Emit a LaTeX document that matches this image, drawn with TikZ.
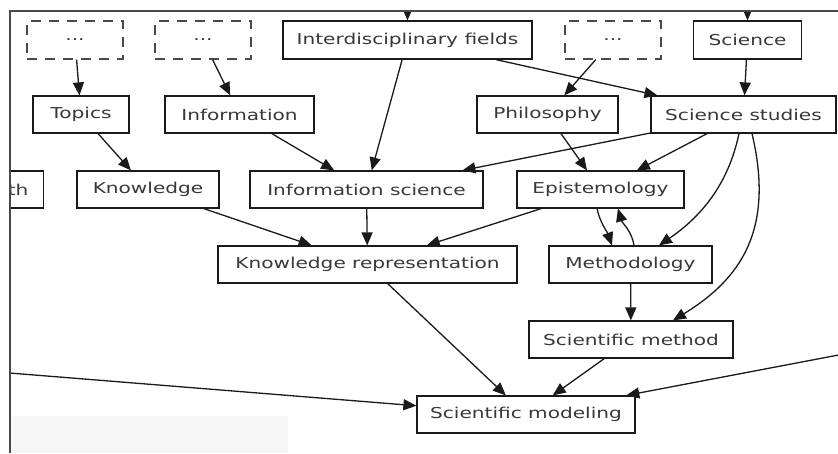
\documentclass[tikz,border=0pt]{standalone}
\usepackage{fontspec}
\setmainfont{DejaVu Sans}[FakeStretch=1.34]
\usetikzlibrary{arrows.meta}
\definecolor{inkline}{HTML}{1A1A1A}
\definecolor{inktext}{HTML}{383838}
\definecolor{framegray}{HTML}{4A4A4A}
\definecolor{paleband}{HTML}{F6F6F6}
\tikzset{
  box/.style={draw=inkline, line width=1.2pt, rectangle, inner sep=0pt,
    minimum height=37pt, text=inktext, font=\fontsize{15}{18}\selectfont},
  dashbox/.style={box, draw=framegray, dash pattern=on 10pt off 8pt, minimum height=38pt},
  edge/.style={draw=inkline, line width=1.3pt, -{Triangle[length=13pt,width=11pt]}},
}
\begin{document}
\begin{tikzpicture}[x=1pt, y=-1pt]
\useasboundingbox (0,0) rectangle (838,453);
\fill[white] (0,0) rectangle (838,453);
\fill[paleband] (11,416) rectangle (288,453);
\begin{scope}
\clip (10,11) rectangle (838,453);

% first row
\node[dashbox, minimum width=96pt] (d1) at (75,40) {...};
\node[dashbox, minimum width=96pt] (d2) at (203,40) {...};
\node[box, minimum width=249pt, minimum height=38pt] (inter) at (407.5,40) {Interdisciplinary fields};
\node[dashbox, minimum width=96pt] (d3) at (613,40) {...};
\node[box, minimum width=108pt, minimum height=38pt] (sci) at (747.5,40) {Science};

% second row
\node[box, minimum width=96pt] (topics) at (81,114.5) {Topics};
\node[box, minimum width=149pt] (info) at (239.5,114.5) {Information};
\node[box, minimum width=141pt] (phil) at (547.5,114.5) {Philosophy};
\node[box, minimum width=185pt] (studies) at (743.5,114.5) {Science studies};

% third row
\node[box, anchor=east, text width=60pt, align=right, inner xsep=15pt] (th) at (44,189.5) {th};
\node[box, minimum width=142pt] (know) at (148,189.5) {Knowledge};
\node[box, minimum width=233pt] (infosci) at (366.5,189.5) {Information science};
\node[box, minimum width=167pt] (epi) at (600.5,189.5) {Epistemology};

% fourth row
\node[box, minimum width=299pt] (kr) at (367.5,264.5) {Knowledge representation};
\node[box, minimum width=163pt] (meth) at (630.5,264.5) {Methodology};

% fifth and sixth rows
\node[box, minimum width=204pt] (smeth) at (631,339.5) {Scientific method};
\node[box, minimum width=218pt] (smod) at (526,414.5) {Scientific modeling};

% ends of edges that come from outside the frame
\coordinate (upA) at (407.5,-30);
\coordinate (upB) at (747.5,-30);
\coordinate (farL) at (-60,367.4);
\coordinate (farR) at (900,343.3);

% straight edges
\draw[edge] (upA) -- (inter);
\draw[edge] (upB) -- (sci);
\draw[edge] (d1) -- (topics);
\draw[edge] (d2) -- (info);
\draw[edge] (d3) -- (phil);
\draw[edge] (sci) -- (studies);
\draw[edge] (inter) -- (infosci);
\draw[edge] (inter) -- (studies);
\draw[edge] (topics) -- (know);
\draw[edge] (info) -- (infosci);
\draw[edge] (phil) -- (epi);
\draw[edge] (studies) -- (infosci);
\draw[edge] (studies) -- (epi);
\draw[edge] (know) -- (kr);
\draw[edge] (infosci) -- (kr);
\draw[edge] (epi) -- (kr);
\draw[edge] (meth) -- (smeth);
\draw[edge] (kr) -- (smod);
\draw[edge] (smeth) -- (smod);
\draw[edge] (farL) -- (smod);
\draw[edge] (farR) -- (smod);

% curved edges
\draw[edge] ([xshift=-4.5pt]studies.south) .. controls +(-11,52) and +(41,-28) .. ([xshift=28.5pt]meth.north);
\draw[edge] ([xshift=8.5pt]studies.south) .. controls +(23,97) and +(67,-41) .. ([xshift=42pt]smeth.north);
\draw[edge] ([xshift=-3.5pt]epi.south) .. controls +(3,14) and +(-5,-14) .. ([xshift=-18.5pt]meth.north);
\draw[edge] ([xshift=3.5pt]meth.north) .. controls +(-2,-14) and +(4,14) .. ([xshift=17.5pt]epi.south);
\end{scope}

% frame border along the top and left
\draw[framegray, line width=1.1pt] (838,11) -- (10,11) -- (10,453);
\end{tikzpicture}
\end{document}
